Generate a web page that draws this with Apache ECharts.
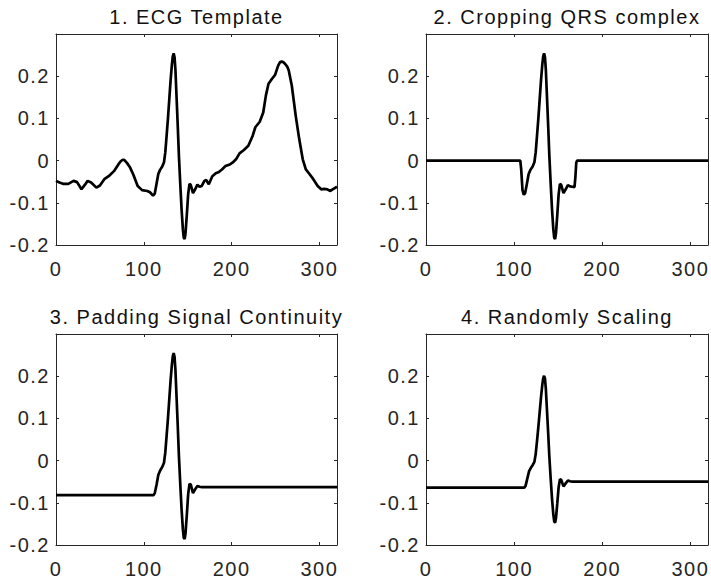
<!DOCTYPE html>
<html>
<head>
<meta charset="utf-8">
<title>ECG augmentation</title>
<script src="https://cdn.jsdelivr.net/npm/echarts@6/dist/echarts.min.js"></script>
<style>
  html, body { margin: 0; padding: 0; background: #fff; }
  #main { width: 711px; height: 581px; }
  /* the original (MATLAB on a Mac) sets its Helvetica quite loose */
  #main svg text { letter-spacing: 1.5px; }
</style>
</head>
<body>
<div id="main"></div>
<script>
var titles = ["1. ECG Template", "2. Cropping QRS complex", "3. Padding Signal Continuity", "4. Randomly Scaling"];
var yTickLabels = [-0.2, -0.1, 0, 0.1, 0.2];

// 1. whole template beat, [sample, amplitude]
var ecgTemplate = [
  [0, -0.048], [4, -0.052], [8, -0.055], [14, -0.055], [20, -0.048], [24, -0.051], [29, -0.068],
  [33, -0.057], [36, -0.048], [40, -0.052], [46, -0.064], [50, -0.059], [55, -0.044], [60, -0.037],
  [66, -0.025], [71, -0.009], [74, -0.001], [76, 0.002], [78, 0.001], [81, -0.006], [84, -0.015],
  [88, -0.033], [93, -0.06], [98, -0.07], [104, -0.072], [107, -0.075], [110.5, -0.083],
  [112.5, -0.078], [114.5, -0.055], [116.5, -0.032], [118.5, -0.022], [121, -0.014], [123, -0.004],
  [124.5, 0.02], [126, 0.06], [127.5, 0.1], [129, 0.145], [130.5, 0.19], [132, 0.228], [133, 0.247],
  [134, 0.254], [135, 0.245], [136, 0.215], [137, 0.165], [138.5, 0.09], [140, 0.01],
  [141.5, -0.055], [143, -0.115], [144.5, -0.163], [145.5, -0.183], [146.5, -0.186],
  [147.5, -0.172], [149, -0.128], [150.5, -0.08], [152, -0.055], [153.5, -0.058], [156, -0.077],
  [158.5, -0.068], [161, -0.057], [163.5, -0.062], [166, -0.06], [169, -0.048], [171, -0.046],
  [174, -0.056], [178, -0.037], [182, -0.03], [185.5, -0.027], [189, -0.021], [193, -0.013],
  [198, -0.009], [201, -0.005], [205, 0.003], [209, 0.017], [214, 0.025], [219, 0.035], [224, 0.059],
  [227, 0.079], [232, 0.092], [236, 0.114], [239, 0.154], [242, 0.182], [246, 0.194], [249.5, 0.203],
  [253, 0.225], [255, 0.233], [257, 0.235], [259, 0.233], [261, 0.229], [263.5, 0.222], [265, 0.214],
  [268.5, 0.178], [273, 0.106], [277, 0.051], [281, 0.003], [284.5, -0.021], [288, -0.03],
  [293, -0.044], [298, -0.06], [302, -0.068], [305.5, -0.067], [309, -0.068], [312, -0.072],
  [316, -0.067], [320, -0.062]
];

// 2. QRS cut out, zero elsewhere
var croppedQrs = [
  [0, 0], [107, 0], [108, -0.02], [109.5, -0.07], [111, -0.081], [112.5, -0.077], [114.5, -0.055],
  [116.5, -0.032], [118.5, -0.022], [121, -0.014], [123, -0.004], [124.5, 0.02], [126, 0.06],
  [127.5, 0.1], [129, 0.145], [130.5, 0.19], [132, 0.228], [133, 0.247], [134, 0.254], [135, 0.245],
  [136, 0.215], [137, 0.165], [138.5, 0.09], [140, 0.01], [141.5, -0.055], [143, -0.115],
  [144.5, -0.163], [145.5, -0.183], [146.5, -0.186], [147.5, -0.172], [149, -0.128], [150.5, -0.08],
  [152, -0.055], [153.5, -0.058], [156, -0.077], [158.5, -0.068], [161, -0.058], [163.5, -0.061],
  [166, -0.062], [168.5, -0.063], [169.5, -0.04], [170.5, -0.005], [171.5, 0], [320, 0]
];

// 3. QRS padded with its first / last sample
var paddedQrs = [
  [0, -0.082], [111, -0.082], [112.5, -0.077], [114.5, -0.057], [116.5, -0.034], [118.5, -0.024],
  [121, -0.015], [123, -0.005], [124.5, 0.02], [126, 0.06], [127.5, 0.1], [129, 0.145], [130.5, 0.19],
  [132, 0.228], [133, 0.247], [134, 0.255], [135, 0.246], [136, 0.215], [137, 0.165], [138.5, 0.09],
  [140, 0.01], [141.5, -0.055], [143, -0.115], [144.5, -0.163], [145.5, -0.183], [146.5, -0.186],
  [147.5, -0.172], [149, -0.128], [150.5, -0.08], [152, -0.055], [153.5, -0.057], [156, -0.077],
  [158.5, -0.068], [161, -0.06], [163.5, -0.062], [166, -0.063], [320, -0.063]
];

// 4. padded QRS after random amplitude scaling
var scaledQrs = [
  [0, -0.064], [111.5, -0.064], [113, -0.06], [115, -0.042], [117, -0.025], [119, -0.017],
  [121, -0.011], [123, -0.003], [124.5, 0.016], [126, 0.047], [127.5, 0.08], [129, 0.115],
  [130.5, 0.15], [132, 0.18], [133, 0.195], [134, 0.201], [135, 0.194], [136, 0.17], [137, 0.13],
  [138.5, 0.071], [140, 0.008], [141.5, -0.043], [143, -0.09], [144.5, -0.128], [145.5, -0.144],
  [146.5, -0.147], [147.5, -0.136], [149, -0.101], [150.5, -0.063], [152, -0.044], [153.5, -0.046],
  [156, -0.061], [158.5, -0.054], [161, -0.047], [163.5, -0.049], [166, -0.05], [320, -0.05]
];

var panels = [ecgTemplate, croppedQrs, paddedQrs, scaledQrs];

var fontFamily = "Liberation Sans, Arial, Helvetica, sans-serif";
var axisColor = "#262626";
var grids = [
  { left: 56, top: 34, width: 281, height: 211 },
  { left: 426, top: 34, width: 282, height: 211 },
  { left: 56, top: 334, width: 281, height: 211 },
  { left: 426, top: 334, width: 282, height: 211 }
];

var xAxes = [];
var yAxes = [];
var series = [];
var graphics = [];

grids.forEach(function(g, i) {
  // bottom + top (mirror) x axes
  ["bottom", "top"].forEach(function(pos) {
    xAxes.push({
      type: "value",
      gridIndex: i,
      position: pos,
      min: 0,
      max: 320,
      interval: 100,
      axisLine: { show: true, onZero: false, lineStyle: { color: axisColor, width: 1 } },
      axisTick: { show: true, inside: true, length: 3, lineStyle: { color: axisColor } },
      axisLabel: {
        show: pos === "bottom",
        color: axisColor,
        fontSize: 20,
        fontFamily: fontFamily,
        margin: 14
      },
      splitLine: { show: false }
    });
  });
  // left + right (mirror) y axes
  ["left", "right"].forEach(function(pos) {
    yAxes.push({
      type: "value",
      gridIndex: i,
      position: pos,
      min: -0.2,
      max: 0.3,
      interval: 0.1,
      axisLine: { show: true, onZero: false, lineStyle: { color: axisColor, width: 1 } },
      axisTick: { show: true, inside: true, length: 3, lineStyle: { color: axisColor } },
      axisLabel: {
        show: pos === "left",
        color: axisColor,
        fontSize: 20,
        fontFamily: fontFamily,
        margin: 6,
        formatter: function(v) {
          var r = Math.round(v * 10) / 10;
          return yTickLabels.indexOf(r) >= 0 ? String(r) : "";
        }
      },
      splitLine: { show: false }
    });
  });
  series.push({
    type: "line",
    xAxisIndex: i * 2,
    yAxisIndex: i * 2,
    data: panels[i],
    showSymbol: false,
    lineStyle: { color: "#000", width: 2.7 },
    silent: true
  });
  // title centred over its box
  graphics.push({
    type: "text",
    x: g.left + g.width / 2,
    y: g.top - 17,
    style: {
      text: titles[i],
      fill: "#111",
      fontSize: 20,
      fontFamily: fontFamily,
      align: "center",
      verticalAlign: "middle"
    }
  });
});

var myChart = echarts.init(document.getElementById("main"), null, { renderer: "svg" });
myChart.setOption({
  animation: false,
  backgroundColor: "#fff",
  grid: grids,
  xAxis: xAxes,
  yAxis: yAxes,
  series: series,
  graphic: graphics
});
</script>
</body>
</html>
